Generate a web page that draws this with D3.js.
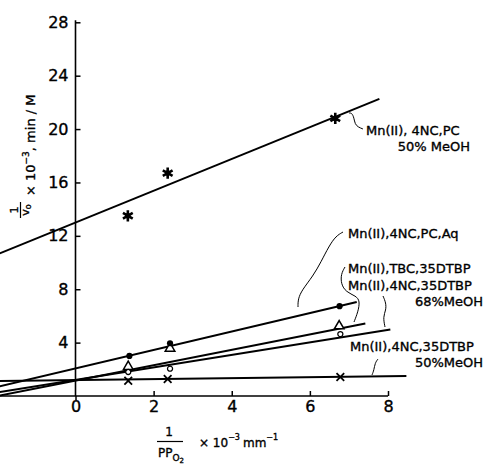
<!DOCTYPE html>
<html>
<head>
<meta charset="utf-8">
<script src="https://cdn.jsdelivr.net/npm/d3@7"></script>
<style>
  body { margin: 0; background: #fff; }
  svg { display: block; font-family: "DejaVu Sans", sans-serif; }
  svg text { stroke: #000; stroke-width: 0.35px; }
</style>
</head>
<body>
<div id="chart"></div>
<script>
// ticks
var xTicks = [0, 2, 4, 6, 8];
var yTicks = [4, 8, 12, 16, 20, 24, 28];

// measured points, one pair of arrays per run
var starX = [1.34, 2.36, 6.65],  starY = [13.5, 16.7, 20.8];
var dotX = [1.38, 2.42, 6.76],   dotY = [3.0, 3.95, 6.73];
var triX = [1.35, 2.42, 6.75],   triY = [2.2, 3.57, 5.24];
var ringX = [1.35, 2.42, 6.78],  ringY = [1.8, 2.05, 4.64];
var crossX = [1.35, 2.36, 6.78], crossY = [1.14, 1.27, 1.42];

// fitted straight lines: [x start, x end] and [y start, y end]
var fitX = [[-1.94, 7.78], [-1.94, 7.2], [-1.94, 7.42], [-1.94, 8.06], [-1.94, 8.47]];
var fitY = [[10.69, 22.26], [0.73, 7.04], [0.04, 5.44], [0.29, 4.99], [1.13, 1.5]];

var labels = [
    ["Mn(II), 4NC,PC", "50% MeOH"],
    ["Mn(II),4NC,PC,Aq"],
    ["Mn(II),TBC,35DTBP"],
    ["Mn(II),4NC,35DTBP", "68%MeOH"],
    ["Mn(II),4NC,35DTBP", "50%MeOH"]
];

var width = 485,
    height = 469;

var x = d3.scaleLinear().domain([0, 8]).range([75.5, 388]);
var y = d3.scaleLinear().domain([0, 28]).range([396, 22.3]);
var xLeft = -1.95;

var svg = d3.select("#chart").append("svg")
    .attr("width", width)
    .attr("height", height);

// axes
var xAxis = d3.axisBottom(x).tickValues(xTicks).tickSize(-5).tickSizeOuter(0).tickPadding(5);
var yAxis = d3.axisLeft(y).tickValues(yTicks).tickSize(-5).tickSizeOuter(0).tickPadding(7);

var gx = svg.append("g").attr("transform", "translate(0," + y(0) + ")").call(xAxis);
var gy = svg.append("g").attr("transform", "translate(" + x(0) + ",0)").call(yAxis);
gx.select(".domain").remove();
gy.select(".domain").remove();
gx.selectAll(".tick").filter(function (d) { return d === 0; }).select("line").attr("y2", 4);
[gx, gy].forEach(function (g) {
    g.selectAll("line").attr("stroke", "#000").attr("stroke-width", 1.5);
    g.selectAll("text").attr("fill", "#000").style("font-size", "16px")
        .style("font-family", "DejaVu Sans, sans-serif");
});

svg.append("line")
    .attr("x1", x(xLeft)).attr("x2", x(8))
    .attr("y1", y(0)).attr("y2", y(0))
    .attr("stroke", "#000").attr("stroke-width", 1.6);
svg.append("line")
    .attr("x1", x(0)).attr("x2", x(0))
    .attr("y1", y(0)).attr("y2", y(28) - 2)
    .attr("stroke", "#000").attr("stroke-width", 1.6);

// fit lines
var line = d3.line()
    .x(function (d) { return x(d[0]); })
    .y(function (d) { return y(d[1]); });

fitX.forEach(function (xs, i) {
    svg.append("path")
        .attr("d", line([[xs[0], fitY[i][0]], [xs[1], fitY[i][1]]]))
        .attr("fill", "none")
        .attr("stroke", "#000")
        .attr("stroke-width", 2);
});

function pts(xs, ys) {
    return xs.map(function (v, i) { return [v, ys[i]]; });
}

function marks(data, sym, size, fill, sw) {
    svg.append("g").selectAll("path")
        .data(data)
        .enter().append("path")
        .attr("transform", function (d) { return "translate(" + x(d[0]) + "," + y(d[1]) + ")"; })
        .attr("d", d3.symbol().type(sym).size(size))
        .attr("fill", fill)
        .attr("stroke", "#000")
        .attr("stroke-width", sw);
}

marks(pts(starX, starY), d3.symbolAsterisk, 90, "none", 2.6);
marks(pts(starX, starY), d3.symbolCircle, 24, "#000", 0);
marks(pts(triX, triY), d3.symbolTriangle, 40, "#fff", 1.5);
marks(pts(ringX, ringY), d3.symbolCircle, 20, "#fff", 1.3);
marks(pts(dotX, dotY), d3.symbolCircle, 30, "#000", 0);
marks(pts(crossX, crossY), d3.symbolX, 40, "none", 1.8);

// labels with curly leaders
var labelPos = [[366, 135, 470], [348, 238], [348, 273], [348, 290, 483], [350, 351, 483]];
var leaders = [
    [[349, 113], [352, 113], [354, 118], [355, 124], [358, 127], [363, 129]],
    [[343, 232], [336, 236], [329, 246], [321, 262], [313, 276], [302, 290], [298, 299], [298, 307]],
    [[345, 267], [341, 274], [341, 284], [346, 292], [356, 296], [360, 301], [358, 312], [354, 322]],
    [[383, 296], [386, 303], [386, 310], [383, 317], [385, 327]],
    [[378, 359], [375, 363], [374, 370], [372, 375]]
];

var curve = d3.line().curve(d3.curveBasis);

labels.forEach(function (lab, i) {
    var p = labelPos[i];
    svg.append("text")
        .attr("x", p[0]).attr("y", p[1])
        .style("font-size", "13px")
        .attr("fill", "#000")
        .text(lab[0]);
    if (lab.length > 1) {
        svg.append("text")
            .attr("x", p[2]).attr("y", p[1] + 16)
            .attr("text-anchor", "end")
            .style("font-size", "13px")
            .attr("fill", "#000")
            .text(lab[1]);
    }
    svg.append("path")
        .attr("d", curve(leaders[i]))
        .attr("fill", "none")
        .attr("stroke", "#000")
        .attr("stroke-width", 1);
});

// y axis title
var yt = svg.append("g").attr("transform", "translate(35,222) rotate(-90)");
yt.append("text").attr("x", 12).attr("y", -17).attr("text-anchor", "middle")
    .style("font-size", "11px").text("1");
yt.append("line").attr("x1", 4).attr("x2", 20).attr("y1", -14.5).attr("y2", -14.5)
    .attr("stroke", "#000").attr("stroke-width", 1.2);
var v0 = yt.append("text").attr("x", 12).attr("y", -6).attr("text-anchor", "middle")
    .style("font-size", "11px");
v0.append("tspan").text("v");
v0.append("tspan").attr("dy", 2).style("font-size", "8px").text("o");
var ylab = yt.append("text").attr("x", 26).attr("y", 0).style("font-size", "13px");
ylab.append("tspan").text("× 10");
ylab.append("tspan").attr("dy", -6).style("font-size", "9px").text("−3");
ylab.append("tspan").attr("dy", 6).text(", min / M");

// x axis title
svg.append("text").attr("x", 169).attr("y", 436).attr("text-anchor", "middle")
    .style("font-size", "12px").text("1");
svg.append("line").attr("x1", 157).attr("x2", 183).attr("y1", 441.5).attr("y2", 441.5)
    .attr("stroke", "#000").attr("stroke-width", 1.2);
var pp = svg.append("text").attr("x", 158).attr("y", 457).style("font-size", "12px");
pp.append("tspan").text("PP");
pp.append("tspan").attr("dy", 4).style("font-size", "9px").text("O");
pp.append("tspan").attr("dy", 2).style("font-size", "7px").text("2");
var xlab = svg.append("text").attr("x", 199).attr("y", 447).style("font-size", "12px");
xlab.append("tspan").text("× 10");
xlab.append("tspan").attr("dy", -7).style("font-size", "8px").text("−3");
xlab.append("tspan").attr("dy", 7).attr("dx", 3).text("mm");
xlab.append("tspan").attr("dy", -7).style("font-size", "8px").text("−1");
</script>
</body>
</html>
